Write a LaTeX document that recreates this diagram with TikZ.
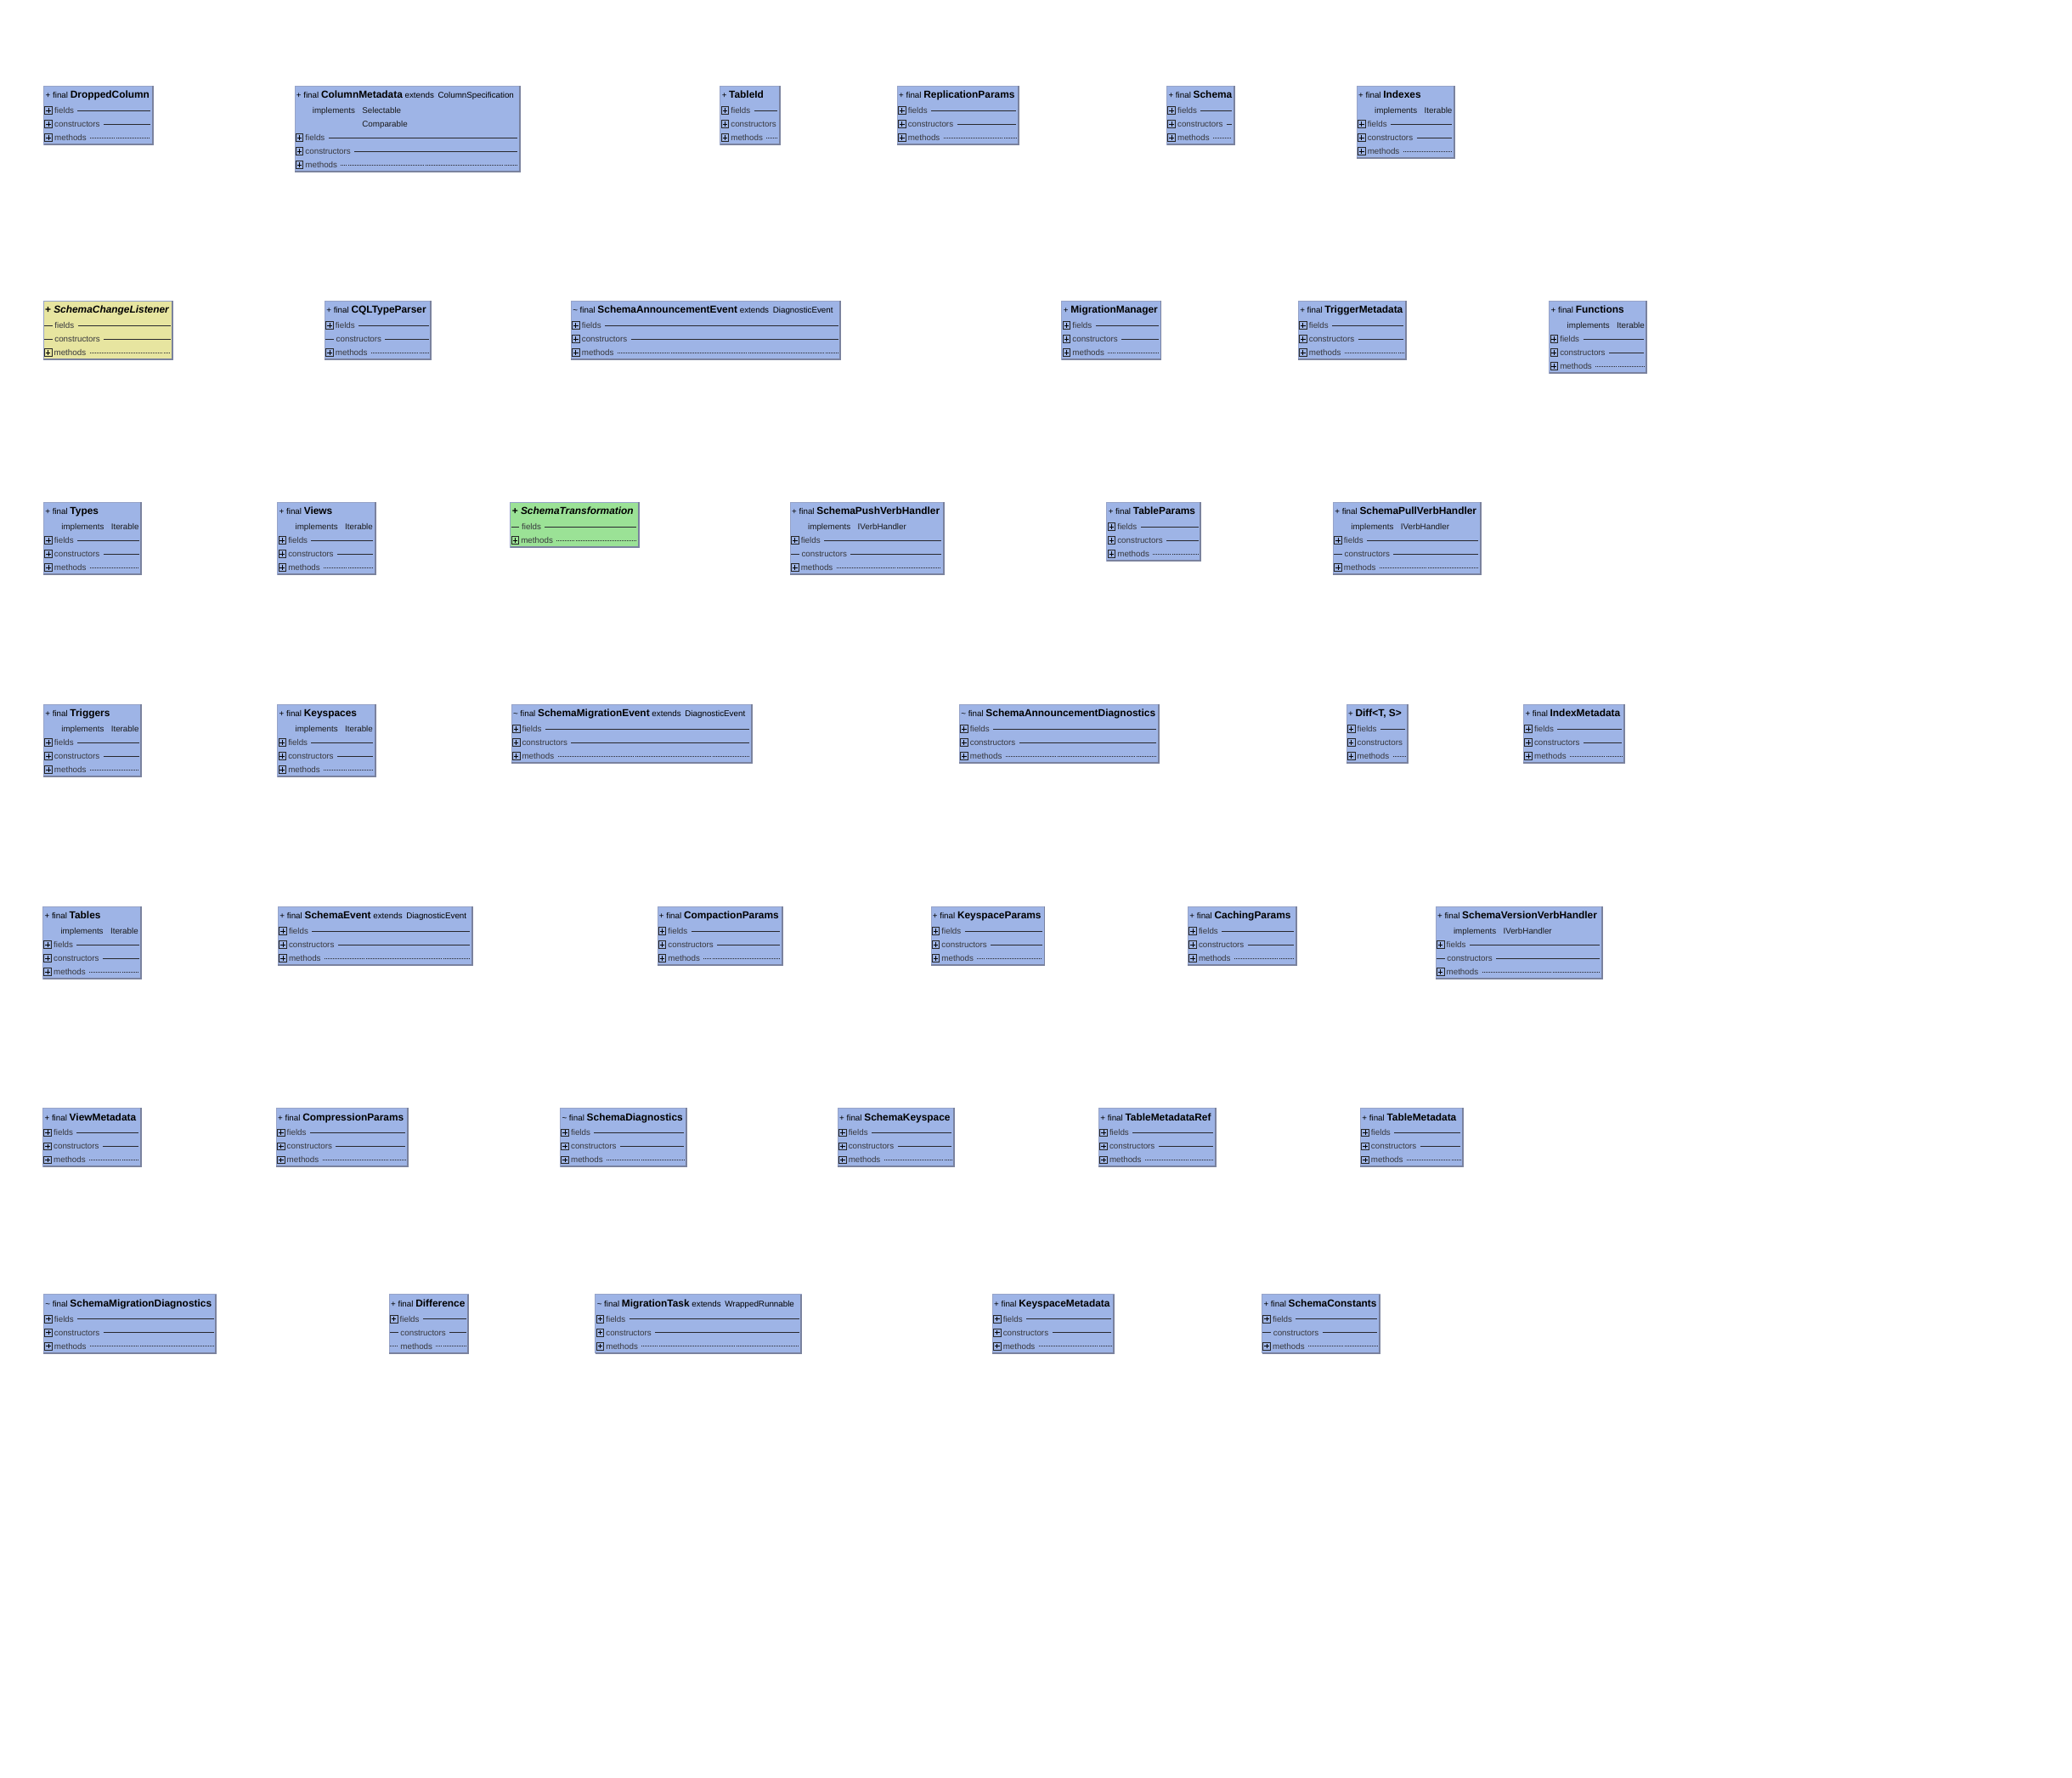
\documentclass[tikz,border=0pt]{standalone}
\usepackage{fontspec}
\setmainfont{Liberation Sans}
\usetikzlibrary{calc}
\definecolor{ublue}{RGB}{158,180,230}
\definecolor{uyellow}{RGB}{231,229,160}
\definecolor{ugreen}{RGB}{155,226,150}
\definecolor{uborder}{RGB}{150,163,200}
\definecolor{ushadow}{RGB}{122,130,158}
\definecolor{rowgray}{RGB}{55,55,60}
\definecolor{linegray}{RGB}{40,40,45}
\newdimen\uwa \newdimen\uwb \newdimen\myTH
\newsavebox\ttbox
\newcommand\fittitle[2]{\sbox\ttbox{#2}\myTH=\ht\ttbox\ifdim\wd\ttbox>#1\relax\resizebox{#1}{\myTH}{\usebox\ttbox}\else\usebox\ttbox\fi}
\newcommand\cn[1]{{\fontsize{7.65}{9}\selectfont\bfseries #1}}
\tikzset{
  boxnode/.style={draw=uborder, line width=0.45pt, inner sep=0pt, outer sep=0pt},
  shadowline/.style={draw=ushadow, line width=1.25pt},
  iconbox/.style={draw=black!85, line width=0.5pt, minimum size=5.6pt, inner sep=0pt, outer sep=0pt},
  iconplus/.style={draw=black, line width=0.55pt},
  rowtext/.style={anchor=base west, inner sep=0pt, outer sep=0pt, text=rowgray, font=\fontsize{6.3}{7}\selectfont},
  impltext/.style={anchor=base west, inner sep=0pt, outer sep=0pt, text=black!90, font=\fontsize{6.3}{7}\selectfont},
  titletext/.style={anchor=base west, inner sep=0pt, outer sep=0pt, text=black, font=\fontsize{6.3}{7}\selectfont},
  solidline/.style={draw=linegray, line width=0.6pt},
  dotline/.style={draw=linegray, line width=0.5pt, dash pattern=on 0.4pt off 0.9pt},
}
\newcommand\ubox[7]{%
  \pgfmathsetmacro\uw{#4-#2}%
  \pgfmathsetmacro\uh{13.5+10.29*#5}%
  \pgfmathsetmacro\utw{#4-#2-2.8}%
  \node[boxnode, fill=#6, minimum width=\uw pt, minimum height=\uh pt, anchor=north west] (#1) at (#2,#3) {};%
  \draw[shadowline] (#1.north east) -- (#1.south east) -- (#1.south west);%
  \node[titletext] (#1-t) at ([xshift=1.3pt,yshift=-9.5pt]#1.north west) {\fittitle{\utw pt}{#7}};%
}
\newcommand\ucen[2]{%
  \coordinate (#1-c#2) at ($(#1.north west)+(0,{8.36+10.29*#2})$);%
  \coordinate (#1-e#2) at (#1-c#2 -| #1.east);%
}
\newcommand\utrail[3]{%
  \pgfextractx{\uwa}{\pgfpointanchor{#1-r#2}{east}}%
  \pgfextractx{\uwb}{\pgfpointanchor{#1}{east}}%
  \advance\uwa by 2.8pt \advance\uwb by -1.8pt
  \ifdim\uwb>\uwa \draw[#3] (#1-r#2.east |- #1-c#2) ++(2.8pt,0) -- ([xshift=-1.8pt]#1-e#2);\fi
}
\newcommand\rowP[4]{%
  \ucen{#1}{#2}%
  \node[iconbox] (#1-i#2) at ([xshift=3.6pt]#1-c#2) {};%
  \draw[iconplus] ([xshift=-1.8pt]#1-i#2.center) -- ([xshift=1.8pt]#1-i#2.center) ([yshift=-1.8pt]#1-i#2.center) -- ([yshift=1.8pt]#1-i#2.center);%
  \node[rowtext] (#1-r#2) at ([xshift=8.1pt,yshift=-2.2pt]#1-c#2) {#3};%
  \utrail{#1}{#2}{#4}%
}
\newcommand\rowN[4]{%
  \ucen{#1}{#2}%
  \draw[#4] ([xshift=0.6pt]#1-c#2) -- ([xshift=6.8pt]#1-c#2);%
  \node[rowtext] (#1-r#2) at ([xshift=8.6pt,yshift=-2.2pt]#1-c#2) {#3};%
  \utrail{#1}{#2}{#4}%
}
\newcommand\uimpl[3]{%
  \ucen{#1}{#2}%
  \node[impltext] (#1-m#2) at ([xshift=13.5pt,yshift=-2.2pt]#1-c#2) {implements};%
  \node[impltext] (#1-n#2) at ([xshift=5.4pt]#1-m#2.base east) {#3};%
}
\newcommand\uimplmore[4]{%
  \ucen{#1}{#2}%
  \coordinate (#1-b#2) at ([yshift=-2.2pt]#1-c#2);%
  \node[impltext] (#1-n#2) at (#1-n#4.base west |- #1-b#2) {#3};%
}
\newcommand\stdrows[4]{\rowP{#1}{#2}{fields}{solidline}\rowP{#1}{#3}{constructors}{solidline}\rowP{#1}{#4}{methods}{dotline}}
\newcommand\pnprows[4]{\rowP{#1}{#2}{fields}{solidline}\rowN{#1}{#3}{constructors}{solidline}\rowP{#1}{#4}{methods}{dotline}}
\begin{document}
\begin{tikzpicture}[x=1pt,y=-1pt]
\useasboundingbox (0,0) rectangle (1568,1345.56);
\fill[white] (0,0) rectangle (1568,1345.56);
% ---------- row 1
\ubox{dc}{33.2}{65}{115.5}{3}{ublue}{+ final \cn{DroppedColumn}}
\stdrows{dc}{1}{2}{3}
\ubox{cm}{223}{65}{393.2}{5}{ublue}{+ final \cn{ColumnMetadata} extends\hspace{3pt}ColumnSpecification}
\uimpl{cm}{1}{Selectable}\uimplmore{cm}{2}{Comparable}{1}
\stdrows{cm}{3}{4}{5}
\ubox{tid}{545}{65}{590}{3}{ublue}{+ \cn{TableId}}
\stdrows{tid}{1}{2}{3}
\ubox{rp}{679}{65}{771}{3}{ublue}{+ final \cn{ReplicationParams}}
\stdrows{rp}{1}{2}{3}
\ubox{sch}{883}{65}{934}{3}{ublue}{+ final \cn{Schema}}
\stdrows{sch}{1}{2}{3}
\ubox{idx}{1026.8}{65}{1100.6}{4}{ublue}{+ final \cn{Indexes}}
\uimpl{idx}{1}{Iterable}
\stdrows{idx}{2}{3}{4}
% ---------- row 2
\ubox{scl}{32.8}{227.6}{130.7}{3}{uyellow}{\cn{+ \itshape SchemaChangeListener}}
\rowN{scl}{1}{fields}{solidline}\rowN{scl}{2}{constructors}{solidline}\rowP{scl}{3}{methods}{dotline}
\ubox{cql}{245.8}{227.6}{326.2}{3}{ublue}{+ final \cn{CQLTypeParser}}
\pnprows{cql}{1}{2}{3}
\ubox{sae}{432.2}{227.6}{636}{3}{ublue}{\textasciitilde{} final \cn{SchemaAnnouncementEvent} extends\hspace{3pt}DiagnosticEvent}
\stdrows{sae}{1}{2}{3}
\ubox{mm}{803.5}{227.6}{878.5}{3}{ublue}{+ \cn{MigrationManager}}
\stdrows{mm}{1}{2}{3}
\ubox{tm}{982.5}{227.6}{1064}{3}{ublue}{+ final \cn{TriggerMetadata}}
\stdrows{tm}{1}{2}{3}
\ubox{fn}{1172.4}{227.6}{1246}{4}{ublue}{+ final \cn{Functions}}
\uimpl{fn}{1}{Iterable}
\stdrows{fn}{2}{3}{4}
% ---------- row 3
\ubox{typ}{33}{380}{107}{4}{ublue}{+ final \cn{Types}}
\uimpl{typ}{1}{Iterable}
\stdrows{typ}{2}{3}{4}
\ubox{vw}{210}{380}{284}{4}{ublue}{+ final \cn{Views}}
\uimpl{vw}{1}{Iterable}
\stdrows{vw}{2}{3}{4}
\ubox{st}{386.2}{380}{483.2}{2}{ugreen}{\cn{+ \itshape SchemaTransformation}}
\rowN{st}{1}{fields}{solidline}\rowP{st}{2}{methods}{dotline}
\ubox{spush}{598}{380}{714}{4}{ublue}{+ final \cn{SchemaPushVerbHandler}}
\uimpl{spush}{1}{IVerbHandler}
\pnprows{spush}{2}{3}{4}
\ubox{tp}{837.5}{380}{908.6}{3}{ublue}{+ final \cn{TableParams}}
\stdrows{tp}{1}{2}{3}
\ubox{spull}{1008.9}{380}{1120.7}{4}{ublue}{+ final \cn{SchemaPullVerbHandler}}
\uimpl{spull}{1}{IVerbHandler}
\pnprows{spull}{2}{3}{4}
% ---------- row 4
\ubox{trg}{33}{533}{107}{4}{ublue}{+ final \cn{Triggers}}
\uimpl{trg}{1}{Iterable}
\stdrows{trg}{2}{3}{4}
\ubox{ks}{210}{533}{284}{4}{ublue}{+ final \cn{Keyspaces}}
\uimpl{ks}{1}{Iterable}
\stdrows{ks}{2}{3}{4}
\ubox{sme}{387}{533}{569}{3}{ublue}{\textasciitilde{} final \cn{SchemaMigrationEvent} extends\hspace{3pt}DiagnosticEvent}
\stdrows{sme}{1}{2}{3}
\ubox{sad}{726}{533}{877}{3}{ublue}{\textasciitilde{} final \cn{SchemaAnnouncementDiagnostics}}
\stdrows{sad}{1}{2}{3}
\ubox{diff}{1019}{533}{1065}{3}{ublue}{+ \cn{Diff<T, S>}}
\stdrows{diff}{1}{2}{3}
\ubox{im}{1153}{533}{1229}{3}{ublue}{+ final \cn{IndexMetadata}}
\stdrows{im}{1}{2}{3}
% ---------- row 5
\ubox{tbl}{32.5}{686}{107}{4}{ublue}{+ final \cn{Tables}}
\uimpl{tbl}{1}{Iterable}
\stdrows{tbl}{2}{3}{4}
\ubox{se}{210.5}{686}{357.2}{3}{ublue}{+ final \cn{SchemaEvent} extends\hspace{3pt}DiagnosticEvent}
\stdrows{se}{1}{2}{3}
\ubox{cp}{497.5}{686}{592}{3}{ublue}{+ final \cn{CompactionParams}}
\stdrows{cp}{1}{2}{3}
\ubox{kp}{704.5}{686}{790.4}{3}{ublue}{+ final \cn{KeyspaceParams}}
\stdrows{kp}{1}{2}{3}
\ubox{chp}{899}{686}{981}{3}{ublue}{+ final \cn{CachingParams}}
\stdrows{chp}{1}{2}{3}
\ubox{svvh}{1086.5}{686}{1212.5}{4}{ublue}{+ final \cn{SchemaVersionVerbHandler}}
\uimpl{svvh}{1}{IVerbHandler}
\pnprows{svvh}{2}{3}{4}
% ---------- row 6
\ubox{vm}{32.5}{838.5}{106.5}{3}{ublue}{+ final \cn{ViewMetadata}}
\stdrows{vm}{1}{2}{3}
\ubox{cmp}{209}{838.5}{308.5}{3}{ublue}{+ final \cn{CompressionParams}}
\stdrows{cmp}{1}{2}{3}
\ubox{sd}{424}{838.5}{519.5}{3}{ublue}{\textasciitilde{} final \cn{SchemaDiagnostics}}
\stdrows{sd}{1}{2}{3}
\ubox{sk}{634}{838.5}{722}{3}{ublue}{+ final \cn{SchemaKeyspace}}
\stdrows{sk}{1}{2}{3}
\ubox{tmr}{831.5}{838.5}{920}{3}{ublue}{+ final \cn{TableMetadataRef}}
\stdrows{tmr}{1}{2}{3}
\ubox{tmd}{1029.5}{838.5}{1107}{3}{ublue}{+ final \cn{TableMetadata}}
\stdrows{tmd}{1}{2}{3}
% ---------- row 7
\ubox{smd}{33}{979.5}{163.5}{3}{ublue}{\textasciitilde{} final \cn{SchemaMigrationDiagnostics}}
\stdrows{smd}{1}{2}{3}
\ubox{dif}{294.5}{979.5}{354.5}{3}{ublue}{+ final \cn{Difference}}
\rowP{dif}{1}{fields}{solidline}\rowN{dif}{2}{constructors}{solidline}\rowN{dif}{3}{methods}{dotline}
\ubox{mt}{450.5}{979.5}{606.5}{3}{ublue}{\textasciitilde{} final \cn{MigrationTask} extends\hspace{3pt}WrappedRunnable}
\stdrows{mt}{1}{2}{3}
\ubox{km}{751}{979.5}{843}{3}{ublue}{+ final \cn{KeyspaceMetadata}}
\stdrows{km}{1}{2}{3}
\ubox{sc}{955}{979.5}{1044}{3}{ublue}{+ final \cn{SchemaConstants}}
\pnprows{sc}{1}{2}{3}
\end{tikzpicture}
\end{document}
